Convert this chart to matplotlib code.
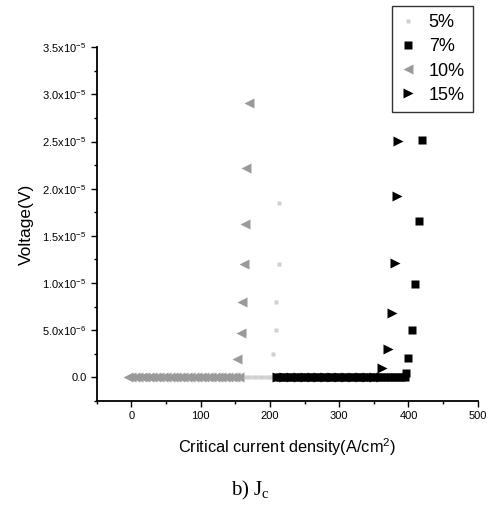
import matplotlib
matplotlib.use("Agg")
import matplotlib.pyplot as plt
from matplotlib.ticker import FixedLocator, MultipleLocator

plt.rcParams['font.family'] = ['Liberation Sans', 'DejaVu Sans']
plt.rcParams['mathtext.fontset'] = 'custom'
plt.rcParams['mathtext.rm'] = 'Liberation Sans'
plt.rcParams['mathtext.it'] = 'Liberation Sans'

# ---- data ----
x5 = [160, 165, 170, 175, 180, 185, 190, 195, 200, 203, 205, 206, 208, 209, 210, 213, 205, 209, 208, 213, 213]
y5 = [0, 0, 0, 0, 0, 0, 0, 0, 0, 0, 0, 0, 0, 0, 0, 0, 0.25e-5, 0.5e-5, 0.8e-5, 1.2e-5, 1.85e-5]

x10 = [-5, 0, 5, 10, 15, 20, 25, 30, 35, 40, 45, 50, 55, 60, 65, 70, 75, 80, 85, 90, 95,
       100, 105, 110, 115, 120, 125, 130, 135, 140, 145, 150, 155,
       153, 158, 160, 163, 164, 166, 169]
y10 = [0]*33 + [0.2e-5, 0.47e-5, 0.8e-5, 1.2e-5, 1.63e-5, 2.22e-5, 2.91e-5]

x7 = [210, 215, 220, 225, 230, 235, 240, 245, 250, 255, 260, 265, 270, 275, 280, 285, 290,
      295, 300, 305, 310, 315, 320, 325, 330, 335, 340, 345, 350, 355, 360, 365, 370, 375,
      380, 385, 390, 395, 397, 400, 405, 410, 415, 420]
y7 = [0]*38 + [0.05e-5, 0.21e-5, 0.5e-5, 0.99e-5, 1.66e-5, 2.52e-5]

x15 = [210, 220, 230, 240, 250, 260, 270, 280, 290, 300, 310, 320, 330, 340, 350, 360,
       362, 371, 376, 380, 384, 385]
y15 = [0]*16 + [0.1e-5, 0.3e-5, 0.68e-5, 1.21e-5, 1.92e-5, 2.51e-5]

ytick_vals = [0, 0.5e-5, 1.0e-5, 1.5e-5, 2.0e-5, 2.5e-5, 3.0e-5, 3.5e-5]
ytick_labels = ["0.0", r"5.0x10$^{-6}$", r"1.0x10$^{-5}$", r"1.5x10$^{-5}$", r"2.0x10$^{-5}$",
                r"2.5x10$^{-5}$", r"3.0x10$^{-5}$", r"3.5x10$^{-5}$"]
xtick_vals = [0, 100, 200, 300, 400, 500]

# ---- plot ----
fig = plt.figure(figsize=(4.89, 5.07), dpi=100)
ax = fig.add_axes([0.198, 0.209, 0.779, 0.698])

h5, = ax.plot(x5, y5, linestyle='none', marker='s', markersize=2.2, color='#d0d0d0', mec='none')
h10, = ax.plot(x10, y10, linestyle='none', marker='<', markersize=6.5, color='#9a9a9a', mec='none')
h7, = ax.plot(x7, y7, linestyle='none', marker='s', markersize=6, color='black', mec='none')
h15, = ax.plot(x15, y15, linestyle='none', marker='>', markersize=7, color='black', mec='none')
ax.set_xlim(-50, 500)
ax.set_ylim(-2.5e-6, 3.5e-5)

ax.spines['top'].set_visible(False)
ax.spines['right'].set_visible(False)
ax.spines['left'].set_linewidth(1.3)
ax.spines['bottom'].set_linewidth(1.3)

ax.xaxis.set_major_locator(FixedLocator(xtick_vals))
ax.xaxis.set_minor_locator(MultipleLocator(50))
ax.yaxis.set_major_locator(FixedLocator(ytick_vals))
ax.yaxis.set_minor_locator(MultipleLocator(0.25e-5))
ax.set_yticklabels(ytick_labels)
ax.tick_params(axis='both', which='major', direction='out', length=4, width=1, labelsize=8)
ax.tick_params(axis='both', which='minor', direction='out', length=2.5, width=1)

ax.set_xlabel("Critical current density(A/cm$^2$)", fontsize=11.8, labelpad=11)
ax.set_ylabel("Voltage(V)", fontsize=12.5, labelpad=6)

leg = fig.legend([h5, h7, h10, h15], ["5%", "7%", "10%", "15%"],
                 loc='upper right', bbox_to_anchor=(473/489, 1 - 6/507),
                 frameon=True, fancybox=False, edgecolor='black', fontsize=13,
                 handletextpad=0.7, labelspacing=0.4, borderpad=0.45,
                 handlelength=0.9, markerscale=1.0, borderaxespad=0)
leg.get_frame().set_linewidth(1.0)

fig.text(250/489, 1 - 490/507, r"b) J$_\mathregular{c}$", fontsize=15, family='Liberation Serif',
         ha='center', va='center')

fig.savefig("out.png", dpi=100)
